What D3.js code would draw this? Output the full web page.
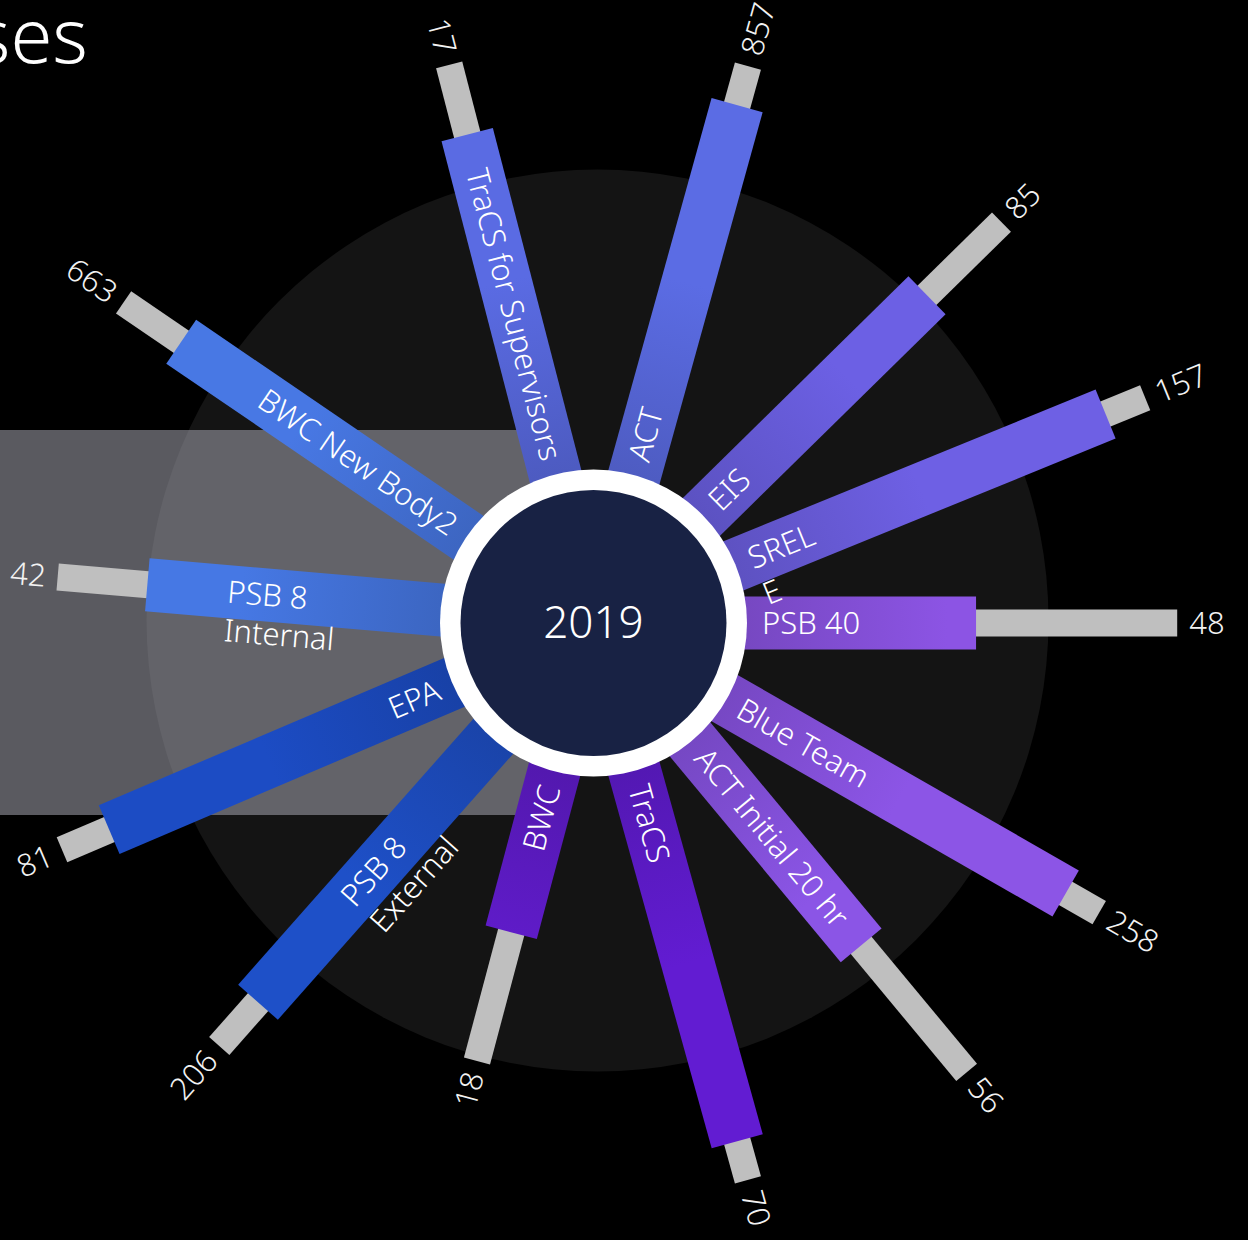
<!DOCTYPE html>
<html>
<head>
<meta charset="utf-8">
<script src="https://cdn.jsdelivr.net/npm/d3@7"></script>
<style>
    html, body { margin: 0; background: #000; overflow: hidden; }
    text { font-family: "Noto Sans", "Open Sans", sans-serif; font-weight: 300; fill: #fff; }
</style>
</head>
<body>
<svg id="chart"></svg>
<script>
// course names ("\n" = line break in the label)
var courses = ["TraCS for Supervisors", "ACT", "EIS", "SREL\nE", "PSB 40", "Blue Team",
    "ACT Initial 20 hr", "TraCS", "BWC", "PSB 8\nExternal", "EPA", "PSB 8\nInternal", "BWC New Body2"];
// number printed at the end of each spoke
var counts = [17, 857, 85, 157, 48, 258, 56, 70, 18, 206, 81, 42, 663];
// bearing of each spoke, degrees clockwise from 12 o'clock
var bearing = [345.5, 15.5, 45.5, 67.8, 90, 119.8, 140.3, 164.5, 194.9, 221.5, 246.9, 274.9, 304.3];
// coloured bar (%) and grey bar (%)
var primaryPct = [78.0, 85.3, 69.8, 88.8, 50.9, 86.8, 59.0, 85.4, 37.0, 78.4, 82.9, 65.4, 76.8];
var totalPct = [94.0, 94.3, 93.0, 98.3, 95.6, 95.4, 95.7, 94.3, 66.6, 91.4, 94.3, 85.4, 92.3];
var year = "2019";

var palette = ["#5a6be3", "#5b6ce4", "#6c60e4", "#6e60e4", "#8c54e4", "#8c55e6",
    "#8b55e6", "#621cd2", "#611ccd", "#1e50c8", "#1c4cc4", "#4678e4", "#4878e4"];

var width = 1248, height = 1240,
    cx = 593.5, cy = 623,
    innerRadius = 153.5, holeRadius = 133,
    barWidth = 53, greyWidth = 27,
    labelPad = 15, numPad = 12;

var rows = courses.map(function(c, i) {
    return {name: c, count: counts[i], bearing: bearing[i], pct: primaryPct[i], total: totalPct[i]};
});

var rot = d3.scaleLinear().domain([0, 360]).range([-90, 270]);
var r = d3.scaleLinear().domain([0, 100]).range([innerRadius, innerRadius + 450]);
var color = d3.scaleOrdinal().domain(courses).range(palette);

var svg = d3.select("#chart")
    .attr("width", width)
    .attr("height", height);

// title (runs off the left edge)
svg.append("text")
    .attr("x", 88)
    .attr("y", 63)
    .attr("text-anchor", "end")
    .style("font-size", "76px")
    .text("Courses");

var defs = svg.append("defs");

var chart = svg.append("g")
    .attr("transform", "translate(" + cx + "," + cy + ")");

// dark disc behind everything
chart.append("circle")
    .attr("cx", 4)
    .attr("cy", -2.5)
    .attr("r", 451)
    .attr("fill", "#141414");

// tooltip-like panel
svg.append("rect")
    .attr("x", -10)
    .attr("y", 430)
    .attr("width", 540)
    .attr("height", 385)
    .attr("fill", "rgb(164,164,175)")
    .attr("fill-opacity", 0.55);

// per bar gradient, darker toward the hub
rows.forEach(function(d, i) {
    var grad = defs.append("linearGradient")
        .attr("id", "grad" + i)
        .attr("gradientUnits", "userSpaceOnUse")
        .attr("x1", innerRadius).attr("x2", innerRadius + 200)
        .attr("y1", 0).attr("y2", 0);
    grad.append("stop").attr("offset", 0).attr("stop-color", d3.color(color(d.name)).darker(0.45));
    grad.append("stop").attr("offset", 1).attr("stop-color", color(d.name));
});

var spokes = svg.append("g")
    .attr("transform", "translate(" + cx + "," + cy + ")")
    .selectAll("g")
    .data(rows)
    .enter()
    .append("g")
    .attr("transform", function(d) { return "rotate(" + rot(d.bearing) + ")"; });

spokes.append("rect")
    .attr("class", "grey")
    .attr("x", r(0) - 40)
    .attr("y", -greyWidth / 2)
    .attr("width", function(d) { return r(d.total) - r(0) + 40; })
    .attr("height", greyWidth)
    .attr("fill", "#bfbfbf");

spokes.append("rect")
    .attr("class", "bar")
    .attr("x", r(0) - 40)
    .attr("y", -barWidth / 2)
    .attr("width", function(d) { return r(d.pct) - r(0) + 40; })
    .attr("height", barWidth)
    .attr("fill", function(d, i) { return "url(#grad" + i + ")"; });

// text layer on top of all bars
var tags = svg.append("g")
    .attr("transform", "translate(" + cx + "," + cy + ")")
    .selectAll("g")
    .data(rows)
    .enter()
    .append("g")
    .attr("transform", function(d) { return "rotate(" + rot(d.bearing) + ")"; });

// course labels
tags.append("text")
    .attr("class", "label")
    .style("font-size", "31px")
    .attr("transform", function(d) { return d.bearing > 180 ? "rotate(180)" : null; })
    .each(function(d) {
        var t = d3.select(this);
        var lines = d.name.split("\n");
        var flip = d.bearing > 180;
        t.text(lines.join(" "));
        var len = this.getComputedTextLength();
        t.text(null);
        var x = flip ? -(innerRadius + labelPad + len) : innerRadius + labelPad;
        lines.forEach(function(line, i) {
            t.append("tspan")
                .attr("x", x)
                .attr("dy", i === 0 ? "0.35em" : "1.25em")
                .text(line);
        });
    });

// counts at the tip
tags.append("text")
    .attr("class", "count")
    .style("font-size", "31px")
    .style("fill", "#f2f2f2")
    .attr("transform", function(d) { return d.bearing > 180 ? "rotate(180)" : null; })
    .attr("x", function(d) {
        return d.bearing > 180 ? -(r(d.total) + numPad) : r(d.total) + numPad;
    })
    .attr("dy", "0.35em")
    .attr("text-anchor", function(d) { return d.bearing > 180 ? "end" : "start"; })
    .text(function(d) { return d.count; });

// hub
var hub = svg.append("g")
    .attr("transform", "translate(" + cx + "," + cy + ")");

hub.append("circle")
    .attr("r", innerRadius)
    .attr("fill", "#fff");

hub.append("circle")
    .attr("r", holeRadius)
    .attr("fill", "#182244");

hub.append("text")
    .attr("text-anchor", "middle")
    .attr("dy", "0.35em")
    .style("font-size", "44px")
    .text(year);
</script>
</body>
</html>
